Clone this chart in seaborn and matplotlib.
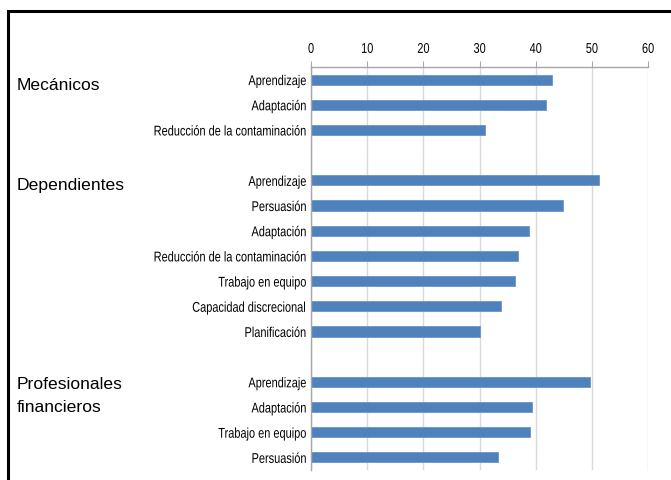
import matplotlib
matplotlib.use("Agg")
import matplotlib.pyplot as plt
from matplotlib.patches import Rectangle
from matplotlib.ticker import FixedLocator
from matplotlib.transforms import Affine2D
from matplotlib.patheffects import AbstractPathEffect
import seaborn as sns
import pandas as pd

groups = ["Mecánicos", "Dependientes", "Profesionales\nfinancieros"]

mec_labels = ["Aprendizaje", "Adaptación", "Reducción de la contaminación"]
mec_values = [42.9, 41.8, 31.0]

dep_labels = ["Aprendizaje", "Persuasión", "Adaptación", "Reducción de la contaminación",
              "Trabajo en equipo", "Capacidad discrecional", "Planificación"]
dep_values = [51.2, 44.9, 38.8, 36.8, 36.4, 33.8, 30.1]

pro_labels = ["Aprendizaje", "Adaptación", "Trabajo en equipo", "Persuasión"]
pro_values = [49.6, 39.3, 39.0, 33.3]

x_ticks = [0, 10, 20, 30, 40, 50, 60]


class Squeeze(AbstractPathEffect):
    # narrow the glyphs horizontally (stand-in for Arial Narrow)
    def __init__(self, sx=0.83, anchor="right"):
        super().__init__()
        self.sx = sx
        self.anchor = anchor

    def draw_path(self, renderer, gc, tpath, affine, rgbFace=None):
        ext = tpath.get_extents()
        if self.anchor == "right":
            x0 = ext.x1
        else:
            x0 = (ext.x0 + ext.x1) / 2
        t = Affine2D().translate(-x0, 0).scale(self.sx, 1).translate(x0, 0)
        renderer.draw_path(gc, tpath, t + affine, rgbFace)


# rows, with one empty slot between groups
rows = []
group_rows = []
pos = 0
for labels, values in [(mec_labels, mec_values), (dep_labels, dep_values), (pro_labels, pro_values)]:
    group_rows.append(pos)
    for lab, val in zip(labels, values):
        rows.append((pos, lab, val))
        pos += 1
    pos += 1
n_slots = pos - 1

df = pd.DataFrame(rows, columns=["pos", "label", "value"])

sns.set_style("white")
plt.rcParams["font.family"] = ["Liberation Sans", "DejaVu Sans"]
plt.rcParams["text.color"] = "black"

W, H = 671, 481
fig = plt.figure(figsize=(W / 100, H / 100), dpi=100)
ax = fig.add_axes([311 / W, 1 - 471 / H, (648 - 311) / W, (471 - 68) / H])

sns.barplot(data=df, x="value", y="pos", orient="h", native_scale=True,
            color="#4F81BD", saturation=1, width=0.4, edgecolor="#6A96CC",
            linewidth=0.6, ax=ax)

ax.set_xlim(0, 60)
ax.set_ylim(n_slots - 0.5, -0.5)
ax.set_xticks(x_ticks)
ax.xaxis.tick_top()
ax.set_xticklabels([str(t) for t in x_ticks], fontsize=10.2, color="black")
ax.tick_params(axis="x", direction="out", length=4, color="#A6A6A6", pad=4, top=True, bottom=False)
ax.grid(axis="x", color="#D9D9D9", linewidth=1)
ax.set_axisbelow(True)

ax.set_yticks(df["pos"])
ax.set_yticklabels(df["label"], fontsize=10.2, color="black")
ax.tick_params(axis="y", length=0, pad=3)
ax.yaxis.set_minor_locator(FixedLocator([p + 0.5 for p in range(-1, n_slots)]))
ax.tick_params(axis="y", which="minor", length=4, color="#A6A6A6", direction="out")
ax.set_xlabel("")
ax.set_ylabel("")

for lab in ax.get_yticklabels():
    lab.set_path_effects([Squeeze(0.775, "right")])
for lab in ax.get_xticklabels():
    lab.set_path_effects([Squeeze(0.775, "center")])

for side in ["right", "bottom"]:
    ax.spines[side].set_visible(False)
for side in ["left", "top"]:
    ax.spines[side].set_color("#A6A6A6")
    ax.spines[side].set_linewidth(1)

trans = matplotlib.transforms.blended_transform_factory(fig.transFigure, ax.transData)
for g, r in zip(groups, group_rows):
    n_lines = g.count("\n") + 1
    fig.text(17 / W, r - 0.12 - 0.12 * (n_lines - 1), g, transform=trans, ha="left", va="top",
             fontsize=12.6, linespacing=1.72, color="black")

fig.patches.append(Rectangle((8 / W, -0.2), 1.2, 1.2 - 12 / H, transform=fig.transFigure,
                             fill=False, edgecolor="black", linewidth=2.2))

fig.savefig("out.png", dpi=100)
